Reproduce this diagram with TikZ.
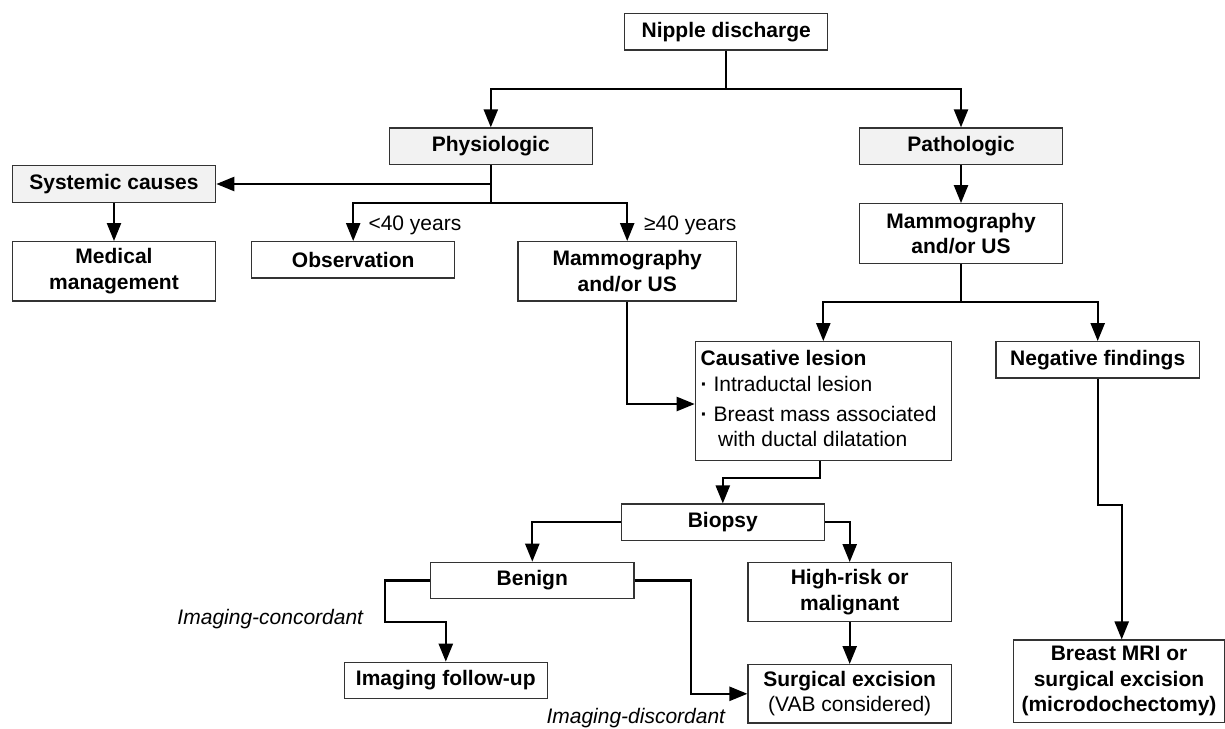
\documentclass[tikz,border=0pt]{standalone}
\usepackage{fontspec}
\setmainfont{Liberation Sans}
\usetikzlibrary{arrows.meta}
\begin{document}
\begin{tikzpicture}[x=1pt,y=-1pt,
  font=\fontsize{21}{25.5}\selectfont,
  box/.style={draw=black!80, line width=1.2pt, fill=white, inner sep=0pt,
    font=\fontsize{21}{25.5}\selectfont\bfseries, align=center},
  gbox/.style={box, fill=black!5},
  ln/.style={line width=2.3pt},
  arr/.style={line width=2.3pt, -{Triangle[length=18pt,width=14pt]}},
  lbl/.style={inner sep=0pt},
  ilbl/.style={inner sep=0pt, font=\fontsize{21}{25.5}\selectfont\itshape}]
\useasboundingbox (0,0) rectangle (1225,728);

% boxes
\node[box, minimum width=203pt, minimum height=36.7pt] (nd) at (726.2,31.7) {Nipple discharge};
\node[gbox, minimum width=203pt, minimum height=36.7pt] (phys) at (490.8,146.3) {Physiologic};
\node[gbox, minimum width=203.4pt, minimum height=36.7pt] (path) at (961,146.3) {Pathologic};
\node[gbox, minimum width=203.4pt, minimum height=36.6pt] (sys) at (114,184) {Systemic causes};
\node[box, minimum width=203.4pt, minimum height=59.3pt] (med) at (114,271.3) {Medical\\management};
\node[box, minimum width=203pt, minimum height=36.3pt] (obs) at (353.2,259.8) {Observation};
\node[box, minimum width=218.3pt, minimum height=59.3pt] (mamL) at (627.2,271.3) {Mammography\\and/or US};
\node[box, minimum width=203.4pt, minimum height=59.6pt] (mamR) at (961,233.5) {Mammography\\and/or US};
\node[box, minimum width=256pt, minimum height=118.6pt] (caus) at (823.3,401) {};
\node[lbl, anchor=north west, align=left] (caustext) at (700.5,350.2)
  {\textbf{Causative lesion}\\
   \textbf{·} Intraductal lesion\\[4.5pt]
   \textbf{·} Breast mass associated\\
   \hspace*{17.5pt}with ductal dilatation};
\node[box, minimum width=203.3pt, minimum height=36.3pt] (neg) at (1097.7,359.8) {Negative findings};
\node[box, minimum width=203pt, minimum height=36.3pt] (bio) at (722.8,522.2) {Biopsy};
\node[box, minimum width=203.3pt, minimum height=36.4pt] (ben) at (532.3,580.5) {Benign};
\node[box, minimum width=203.3pt, minimum height=58.6pt] (hr) at (849.7,592) {High-risk or\\malignant};
\node[box, minimum width=203.3pt, minimum height=58.3pt] (surg) at (849.7,693.8) {Surgical excision\\\mdseries(VAB considered)};
\node[box, minimum width=203pt, minimum height=36.4pt] (foll) at (445.8,680.5) {Imaging follow-up};
\node[box, minimum width=210.6pt, minimum height=82.3pt] (mri) at (1119,681.2) {Breast MRI or\\surgical excision\\(microdochectomy)};

% labels
\node[lbl, anchor=base west] (lt40) at (368.3,230.8) {<40 years};
\node[lbl, anchor=base west] (ge40) at (644,230.8) {≥40 years};
\node[ilbl, anchor=base east] (conc) at (363.3,624.8) {Imaging-concordant};
\node[ilbl, anchor=base west] (disc) at (546.3,723.5) {Imaging-discordant};

% connectors
\coordinate (j1) at (nd.south |- 0,89.3);
\draw[ln] (nd.south) -- (j1);
\draw[arr] (j1) -| (phys.north);
\draw[arr] (j1) -| (path.north);

\coordinate (j2) at (phys.south |- 0,202.7);
\draw[arr] (phys.south) |- (sys.east);
\draw[ln] (phys.south) -- (j2);
\draw[arr] (j2) -| (obs.north);
\draw[arr] (j2) -| (mamL.north);
\draw[arr] (sys.south) -- (med.north);

\draw[arr] (path.south) -- (mamR.north);
\coordinate (j3) at (mamR.south |- 0,302);
\draw[ln] (mamR.south) -- (j3);
\draw[arr] (j3) -| (caus.north);
\draw[arr] (j3) -| (neg.north);

\draw[arr] (mamL.south) |- ([yshift=-3pt]caus.west);
\draw[arr] ([xshift=-3pt]caus.south) -- ++(0,17) -| (bio.north);
\draw[arr] (bio.west) -| (ben.north);
\draw[arr] (bio.east) -| (hr.north);
\draw[arr] (hr.south) -- (surg.north);
\draw[arr] (ben.east) -- ++(56.7,0) |- (surg.west);
\draw[arr] (ben.west) -- ++(-45,0) -- ++(0,41.8) -| (foll.north);
\draw[arr] (neg.south) -- ++(0,126.7) -| ([xshift=2.7pt]mri.north);
\end{tikzpicture}
\end{document}
